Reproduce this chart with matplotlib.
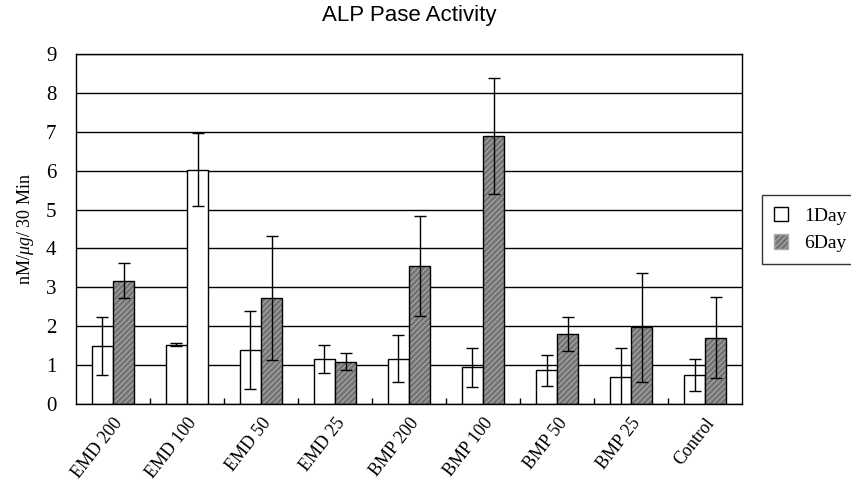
import matplotlib.pyplot as plt
import numpy as np
from matplotlib.patches import Patch

plt.rcParams['font.family'] = ['Liberation Serif', 'DejaVu Serif']
plt.rcParams['mathtext.fontset'] = 'custom'
plt.rcParams['mathtext.it'] = 'Liberation Serif:italic'
plt.rcParams['mathtext.rm'] = 'Liberation Serif'
plt.rcParams['hatch.linewidth'] = 0.8

groups = ['EMD 200', 'EMD 100', 'EMD 50', 'EMD 25', 'BMP 200',
          'BMP 100', 'BMP 50', 'BMP 25', 'Control']
day1 = [1.49, 1.53, 1.39, 1.17, 1.17, 0.94, 0.87, 0.69, 0.75]
day1_err = [0.75, 0.03, 1.0, 0.36, 0.6, 0.5, 0.4, 0.76, 0.42]
day6 = [3.17, 6.03, 2.73, 1.09, 3.55, 6.89, 1.80, 1.97, 1.71]
day6_err = [0.45, 0.95, 1.6, 0.22, 1.28, 1.5, 0.43, 1.4, 1.05]
# the 6Day bar of EMD 100 is printed white in the source figure
day6_plain = [False, True, False, False, False, False, False, False, False]

fig = plt.figure(figsize=(8.51, 4.86), dpi=100)
ax = fig.add_axes([0.0893, 0.1687, 0.7827, 0.7202])

x = np.arange(len(groups))
w = 0.285
hatch_face = '#747474'

ax.bar(x - w/2, day1, w, color='white', edgecolor='black', linewidth=1, zorder=2)
for xi, v, plain in zip(x, day6, day6_plain):
    if plain:
        ax.bar(xi + w/2, v, w, color='white', edgecolor='black', linewidth=1, zorder=2)
    else:
        ax.bar(xi + w/2, v, w, color=hatch_face, edgecolor='#aaaaaa',
               hatch='//////', linewidth=0, zorder=2)
        ax.bar(xi + w/2, v, w, fill=False, edgecolor='black', linewidth=1, zorder=2)

ax.errorbar(x - w/2, day1, yerr=day1_err, fmt='none', ecolor='black',
            elinewidth=1, capsize=4.5, capthick=1, zorder=3)
ax.errorbar(x + w/2, day6, yerr=day6_err, fmt='none', ecolor='black',
            elinewidth=1, capsize=4.5, capthick=1, zorder=3)

ax.set_xlim(-0.5, len(groups) - 0.5)
ax.set_ylim(0, 9)
ax.set_yticks(range(0, 10))
ax.yaxis.grid(True, color='black', linewidth=1)
ax.set_axisbelow(True)

ax.set_xticks(x)
ax.set_xticklabels(groups, rotation=52, ha='right', rotation_mode='anchor', fontsize=13)
ax.set_xticks(np.arange(0.5, len(groups) - 0.5), minor=True)
ax.tick_params(axis='x', which='major', length=0, pad=8)
ax.tick_params(axis='x', which='minor', direction='in', length=4, width=1)
ax.tick_params(axis='y', length=0, pad=14, labelsize=15)

for s in ax.spines.values():
    s.set_linewidth(1)

ax.set_ylabel(r'nM/$\mathit{μg}$/ 30 Min', fontsize=13, labelpad=7)
ax.set_title('ALP Pase Activity', family='Liberation Sans', fontsize=16, pad=24)

handles = [Patch(facecolor='white', edgecolor='black', label='1Day'),
           Patch(facecolor=hatch_face, edgecolor='#aaaaaa', hatch='//////', label='6Day')]
leg = fig.legend(handles=handles, loc='upper left', bbox_to_anchor=(762/851, 1 - 195/486),
                 frameon=True, fancybox=False, edgecolor='black', fontsize=14,
                 handlelength=0.75, handleheight=0.75, handletextpad=0.8, borderpad=0.6,
                 labelspacing=0.5, borderaxespad=0)
leg.get_frame().set_linewidth(1)

fig.savefig('out.png', dpi=100)
